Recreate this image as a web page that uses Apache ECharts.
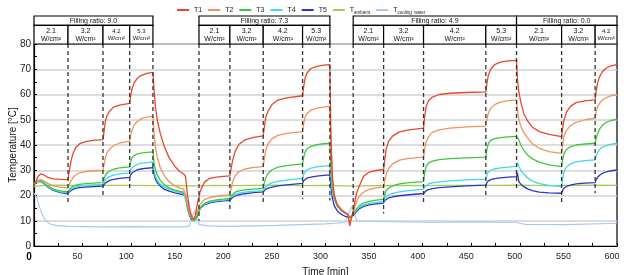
<!DOCTYPE html>
<html><head><meta charset="utf-8">
<script src="https://cdn.jsdelivr.net/npm/echarts/dist/echarts.min.js"></script>
<style>html,body{margin:0;padding:0;background:#fff}#c{width:624px;height:275px}</style>
</head><body><div id="c"></div>
<script>
// ---- shared time axis (min) for T1..T5 ----
const time = [
 0,2,4,7,10,14,20,27,35,
 36.5,38,40,43,47,53,61,71,
 72,73.5,75,78,82,88,98.5,
 99.5,101,103,106,110,116,122.4,
 123.5,125,127,130,134,139,145,150,154,156,158,160,162,164,166,168,169.8,
 171,173,176,181,188,195,201.6,
 203,204.5,207,211,217,226,235.9,
 237,238.5,241,245,251,260,276.4,
 277.5,279,281,285,291,298,304.5,
 305.5,307,309,312,316,320,323,325,326.5,328.5,
 330,332,335,339,345,352,359.8,
 361,362.5,365,369,376,386,400.9,
 402,403.5,406,410,417,428,445,465,
 466,467.5,470,474,480,488,496.6,
 497.5,499,501,504,508,513,520,530,543,
 544,545.5,548,552,558,567,577.5,
 578.5,580,582,585,589,594,600
];
const T1 = [
 24,25.5,27.5,28.6,28.2,27.2,26.6,26.4,26.3,
 30,33.5,36.5,39,40.5,41.3,41.8,42.1,
 45,49.5,51.5,53.5,55,55.8,56.5,
 59.5,62.5,64.5,66.3,67.5,68.4,68.8,
 62,55,49.5,44.5,39.5,35,31.5,29.5,28.6,27.5,20,15,12,10.5,12,16.5,19.5,
 21.5,23.5,25.5,26.8,27.3,27.6,27.8,
 31,34,37.5,40.3,42,43,43.6,
 47,51,53.5,56,57.8,58.7,59.5,
 63,66.5,68.5,70.3,71.1,71.6,71.8,
 45,28,20,16.5,14.5,13.2,12.5,8,11,14,
 17,21,24,27.5,29.3,29.9,30.3,
 34,38.5,41.5,43.5,45.2,46,46.7,
 51,55,57.5,59,60,60.5,60.8,61,
 64,67.5,70,71.8,72.8,73.3,73.5,
 66,61,57,52.5,49.5,47,45.3,44.2,43.3,
 46.5,50,53,55.3,56.8,57.5,57.9,
 61,64.5,67,69,70.5,71.3,71.8
];
const T2 = [
 24.5,25.5,26.2,26.3,25.8,24.8,23.8,23.2,23,
 24.5,25.8,27,28.2,29,29.5,29.8,30,
 32,35,36.8,38.5,39.8,40.7,41.5,
 44,46,47.8,49.2,50.3,51,51.3,
 45,39,35,31,28,25.5,23.8,23,22.5,21.8,17,13.5,11.5,10.5,11.5,13.5,15.5,
 16.5,17.5,18.5,19.2,19.7,20,20.2,
 23,25.5,27.8,29.5,30.5,31.1,31.4,
 34.5,38,40.5,42.5,43.8,44.6,45.3,
 48.5,51,52.5,53.8,54.6,55,55.3,
 42,27,20,16.5,14.5,13.3,12.6,8.5,11,13,
 15,17.5,19.8,21.3,22.4,23,23.4,
 26,28.5,30.8,32.5,34,34.7,35.2,
 38,41,43.3,45,46,46.7,47.2,47.5,
 50,52.5,54.5,56,57,57.6,57.9,
 54,50,47.5,45,42.8,40.5,38.7,37.4,36.7,
 40,43.5,45.8,47.6,49,50,50.6,
 53,55,56.5,57.8,58.8,59.5,59.9
];
const T3 = [
 24.8,25.5,26,25.8,25,23.8,22.5,21.8,21.4,
 22.5,23.2,23.7,24.1,24.4,24.7,24.9,25.1,
 26.5,28,28.9,29.8,30.4,30.9,31.3,
 33.5,35,35.8,36.4,36.8,37.1,37.3,
 33,30,28,26,24.3,23,22.1,21.6,21.3,20.5,16,12.5,11,10,9.3,11.5,14,
 15.2,16,17,17.8,18.3,18.6,18.9,
 20,20.7,21.3,21.8,22.2,22.5,22.8,
 25,27,28.8,30.2,31.2,31.8,32.5,
 35,37.2,38.5,39.5,40.1,40.5,40.7,
 32,24,19,16,14.2,13.2,12.5,11.5,11,12,
 13.5,14.8,16,17,17.7,18.2,18.5,
 20.5,22,23,23.8,24.6,25.1,25.5,
 29,31.5,32.8,33.6,34.2,34.6,34.9,35.2,
 38,40.5,41.8,42.5,42.9,43.2,43.4,
 44,42,40,38,36,34.5,33.2,32.1,31.4,
 34,36.5,38.2,39.3,40,40.4,40.7,
 42.5,44.5,46.3,47.8,49,49.7,50.2
];
const T4 = [
 24.5,25.2,25.6,25.5,24.8,23.5,22.2,21.4,21,
 22,22.6,23,23.4,23.7,24,24.2,24.4,
 25.3,26.3,26.9,27.6,28.1,28.6,29,
 30.2,31,31.7,32.3,32.7,33,33.2,
 30,27.5,26,24.5,23.3,22.4,21.7,21.2,21,20.3,15.5,12.5,11,10.3,10,11.8,13.8,
 15,15.8,16.7,17.4,17.9,18.2,18.5,
 19.4,20,20.5,20.9,21.3,21.6,21.9,
 23,23.7,24.3,25,25.6,26.1,26.8,
 28.2,29.4,30.2,30.8,31.3,31.6,31.8,
 27,22,18.5,15.8,14,13,12.3,11.8,11.5,12,
 13.2,14.3,15.3,16.2,16.9,17.3,17.6,
 18.8,19.6,20.2,20.8,21.4,21.9,22.5,
 23.5,24.2,24.6,25,25.4,25.8,26.2,26.5,
 28,29.2,30,30.5,30.9,31.2,31.5,
 33,31.5,30,28.5,27,25.7,24.7,24,23.5,
 26.5,29.5,31.3,32.5,33.3,33.8,34.1,
 35.5,37,38.2,39.1,39.8,40.3,40.7
];
const T5 = [
 24.5,25.3,25.8,25.6,24.8,23.4,22,21.1,20.7,
 21.5,22,22.4,22.8,23.1,23.3,23.5,23.7,
 24.3,25,25.5,26,26.4,26.8,27.2,
 28.2,29,29.6,30.1,30.5,30.8,31,
 28.5,26.5,25,23.7,22.5,21.7,21,20.6,20.4,19.6,15,12,10.5,10,10.3,12,13.8,
 14.8,15.6,16.4,17.1,17.6,17.9,18.1,
 18.8,19.3,19.8,20.3,20.7,21.1,21.4,
 22,22.5,22.9,23.3,23.8,24.2,24.8,
 25.8,26.4,26.9,27.3,27.7,28,28.2,
 24,19,16,14,12.6,11.8,11.4,11.3,11.3,11.8,
 12.8,13.8,14.8,15.7,16.3,16.7,17,
 18,18.6,19.1,19.5,19.9,20.3,20.8,
 21.4,21.9,22.3,22.7,23.1,23.4,23.8,24.1,
 25,25.8,26.3,26.7,27,27.3,27.5,
 29,25.5,24.5,23.5,22.6,21.9,21.3,21,20.9,
 22,22.9,23.6,24.1,24.6,24.9,25.1,
 26.2,27.2,28,28.8,29.4,29.8,30.1
];
// ---- ambient ----
const ambTime = [0,10,25,50,75,100,125,150,160,170,185,200,225,250,275,300,320,330,350,375,400,425,450,475,500,525,550,575,600];
const Tamb = [23.5,24,24.1,23.9,24,24,23.9,24,23.8,23.8,24,23.9,24,24.1,23.9,24,23.8,23.7,23.9,24,23.9,24,24,24,24.1,23.9,24,24.1,24];
// ---- cooling water ----
const cwTime = [0,3,6,9,12,16,22,35,70,100,130,155,160,163,166,168,170,180,200,250,300,320,324,327,330,332,340,400,450,495,505,550,600];
const Tcw = [21,19,15,12,10,8.8,8.2,7.8,7.6,7.7,7.6,7.6,8,12,14,12,8.5,8,7.8,8.2,8.8,9.3,13,15.5,13,10,9.8,9.4,9.5,9.4,8.6,8.5,9];
// ---- experiment structure ----
const groupLabels = ['Filling ratio: 9.0','Filling ratio: 7.3','Filling ratio: 4.9','Filling ratio: 0.0'];
const groupStart = [0,169.8,328.5,496.6];
const groupEnd = [122.4,304.5,496.6,600];
const stepLabels = ['2.1','3.2','4.2','5.3','2.1','3.2','4.2','5.3','2.1','3.2','4.2','5.3','2.1','3.2','4.2'];
const stepStart = [0,35,71,98.5,169.8,201.6,235.9,276.4,328.5,359.8,400.9,465,496.6,543,577.5];
const stepEnd = [35,71,98.5,122.4,201.6,235.9,276.4,304.5,359.8,400.9,465,496.6,543,577.5,600];
const dashTime = [35,71,98.5,122.4,169.8,201.6,235.9,276.4,304.5,328.5,359.8,400.9,465,496.6,543,577.5];
const dashBottom = [16.5,19.2,23,28,10,14.3,16.2,18.5,18,11,12.9,16.2,18.9,22,16.2,20.9];

const FONT = 'Liberation Sans, Arial, sans-serif';
const colors = ['#e8472b','#f2925e','#3cc83c','#3adbe8','#2a35cc','#a2cc5e','#a8c8ee'];
const names = ['T1','T2','T3','T4','T5','Tamb','Tcw'];

function pairs(ts, vs){ return ts.map((t,i)=>[t,vs[i]]); }

const headerData = [];
const headerText = [];
groupLabels.forEach((g,i)=>{ headerData.push([groupStart[i],groupEnd[i],2,3]); headerText.push(g); });
stepLabels.forEach((s,i)=>{ headerData.push([stepStart[i],stepEnd[i],0,2]); headerText.push(s+'\nW/cm\u00b2'); });

const chart = echarts.init(document.getElementById('c'), null, {renderer:'canvas'});
const lineSeries = [T1,T2,T3,T4,T5].map((v,i)=>({
  name: names[i], type:'line', xAxisIndex:0, yAxisIndex:0,
  data: pairs(time, v), showSymbol:false, symbol:'none', animation:false,
  lineStyle:{color:colors[i], width:1.3}, itemStyle:{color:colors[i]}, z: 10-i
}));
lineSeries.push({name:'Tamb', type:'line', data:pairs(ambTime,Tamb), showSymbol:false, symbol:'none', animation:false, lineStyle:{color:colors[5], width:1.2}, itemStyle:{color:colors[5]}, z:3});
lineSeries.push({name:'Tcw', type:'line', data:pairs(cwTime,Tcw), showSymbol:false, symbol:'none', animation:false, lineStyle:{color:colors[6], width:1.2}, itemStyle:{color:colors[6]}, z:3});

const option = {
  animation:false,
  backgroundColor:'#fff',
  legend:{
    top:3, left:175, icon:'rect', itemWidth:12, itemHeight:2, itemGap:6, z:50, padding:2,
    data: names,
    textStyle:{fontFamily:FONT, fontSize:7, color:'#222', lineHeight:10,
      rich:{m:{fontSize:7, fontFamily:FONT, color:'#222', lineHeight:10}, s:{fontSize:4.5, fontFamily:FONT, color:'#222', lineHeight:10, verticalAlign:'bottom'}}},
    formatter: n => n==='Tamb' ? '{m|T}{s|ambient}' : (n==='Tcw' ? '{m|T}{s|cooling  water}' : n)
  },
  grid:[
    {left:34, right:7, top:44, bottom:29, show:true, borderColor:'#000', borderWidth:1.2, backgroundColor:'transparent', outerBoundsMode:'none', containLabel:false},
    {left:34, right:7, top:16, height:28, show:false, outerBoundsMode:'none', containLabel:false}
  ],
  xAxis:[
    {type:'value', gridIndex:0, min:0, max:600, interval:50,
     name:'Time [min]', nameLocation:'middle', nameGap:15,
     nameTextStyle:{fontFamily:FONT, fontSize:10, color:'#111'},
     axisLine:{lineStyle:{color:'#000', width:1.2}},
     axisTick:{inside:true, length:3, lineStyle:{color:'#000'}},
     minorTick:{show:true, splitNumber:2, length:3, lineStyle:{color:'#000'}},
     splitLine:{show:false},
     axisLabel:{fontFamily:FONT, fontSize:9, color:'#222', margin:6, padding:[0,10,0,0],
       formatter: v => v===0 ? '{b|0}' : String(v),
       rich:{b:{fontWeight:'bold', fontSize:10, fontFamily:FONT, color:'#000'}}}
    },
    {type:'value', gridIndex:1, min:0, max:600, show:false}
  ],
  yAxis:[
    {type:'value', gridIndex:0, min:0, max:80, interval:10,
     name:'Temperature [\u00b0C]', nameLocation:'middle', nameGap:16, nameRotate:90, nameMoveOverlap:false,
     nameTextStyle:{fontFamily:FONT, fontSize:10, color:'#111'},
     axisLine:{show:true, lineStyle:{color:'#000', width:1.2}},
     axisTick:{inside:true, length:3, lineStyle:{color:'#000'}},
     minorTick:{show:true, splitNumber:2, length:3, lineStyle:{color:'#000'}},
     splitLine:{show:true, lineStyle:{color:'#d2d2d2', width:1.5}},
     axisLabel:{fontFamily:FONT, fontSize:10, color:'#222', margin:3}
    },
    {type:'value', gridIndex:1, min:0, max:3, show:false}
  ],
  series: [
    ...lineSeries,
    {type:'custom', name:'dash', xAxisIndex:0, yAxisIndex:0, animation:false, z:20, silent:true,
     data: dashTime.map((t,i)=>[t,dashBottom[i]]),
     renderItem:(params, api)=>{
       const a = api.coord([api.value(0), 80]);
       const b = api.coord([api.value(0), api.value(1)]);
       return {type:'line', shape:{x1:a[0], y1:a[1], x2:b[0], y2:b[1]},
         style:{stroke:'#333', lineWidth:1.3, lineDash:[4,3]}};
     }},
    {type:'custom', name:'header', xAxisIndex:1, yAxisIndex:1, animation:false, clip:false, z:30, silent:true,
     data: headerData,
     encode:{x:[0,1], y:[2,3]},
     renderItem:(params, api)=>{
       const p0 = api.coord([api.value(0), api.value(3)]);
       const p1 = api.coord([api.value(1), api.value(2)]);
       const w = p1[0]-p0[0], h = p1[1]-p0[1];
       const txt = headerText[params.dataIndex];
       const small = w < 27;
       return {type:'group', children:[
         {type:'rect', shape:{x:p0[0], y:p0[1], width:w, height:h},
          style:{fill:'#fff', stroke:'#000', lineWidth:1.2}},
         {type:'text', style:{text:txt, x:p0[0]+w/2, y:p0[1]+h/2+0.5, align:'center', verticalAlign:'middle',
          fontFamily:FONT, fontSize: small?6:7, lineHeight: small?7:8, fill:'#111'}}
       ]};
     }}
  ]
};
chart.setOption(option);
</script>
</body></html>
